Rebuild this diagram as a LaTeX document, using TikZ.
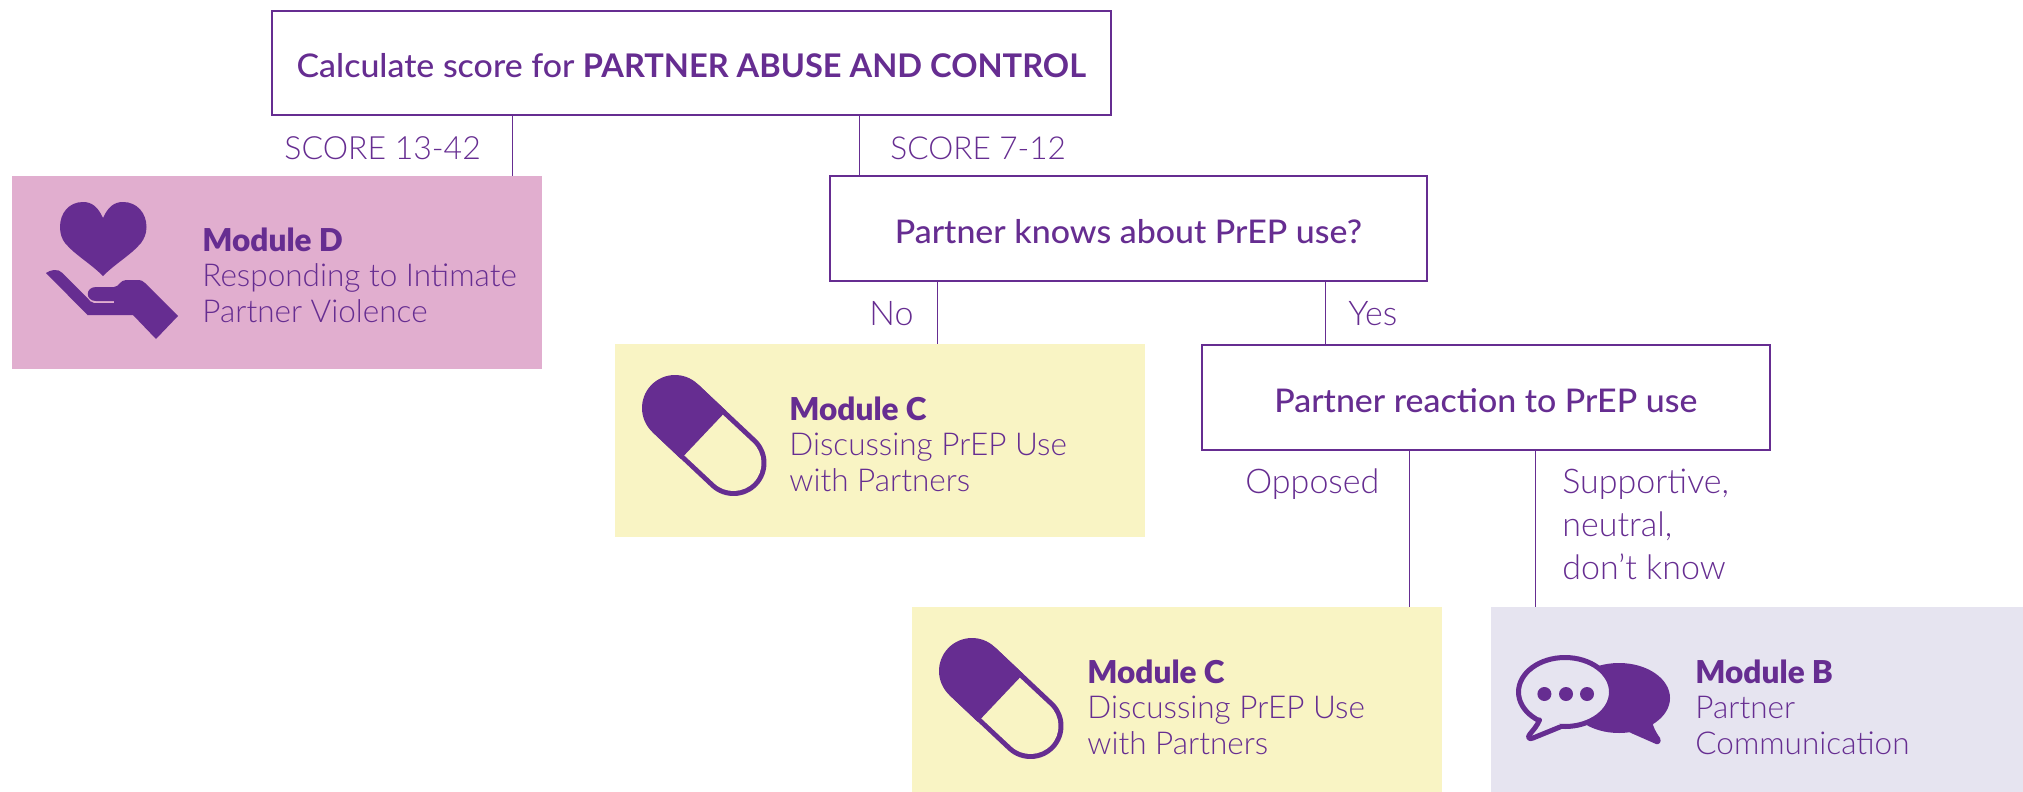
\documentclass[tikz,border=0pt]{standalone}
\usepackage{fontspec}
\setmainfont{Lato}[UprightFont=*-Light,BoldFont=*-Bold]
\newfontfamily\heavyf{Lato}[UprightFont=*-Black]
\newfontfamily\midf{Lato}[UprightFont=*-Medium,BoldFont=*-Bold,UprightFeatures={FakeStretch=1.04}]
\definecolor{pur}{HTML}{662D91}
\definecolor{pinkbg}{HTML}{E1AECF}
\definecolor{yelbg}{HTML}{F9F4C4}
\definecolor{grybg}{HTML}{E6E4F0}
\tikzset{
  qbox/.style={draw=pur,line width=0.8pt,fill=white,anchor=north west,inner sep=0pt,text=pur,font=\midf\fontsize{16.3}{18}\selectfont},
  modbox/.style={anchor=north west,inner sep=0pt,draw=none},
  modtext/.style={anchor=west,inner sep=0pt,align=left,text=pur,font=\fontsize{15.75}{17.75}\selectfont},
  lab/.style={anchor=base west,inner sep=0pt,text=pur,font=\fontsize{17}{21.5}\selectfont},
  conn/.style={draw=pur,line width=0.7pt},
}
\newcommand{\modhead}[1]{{\heavyf #1}}
\newcommand{\pillicon}[1]{%
  \begin{scope}[shift={#1}]
    \draw[pur,line width=33pt,line cap=round] (675,408) -- (733.5,463);
    \draw[yelbg,line width=28pt,line cap=round] (703.5,435) -- (733.5,463);
    \draw[pur,line width=33pt] (675,408) -- (703.5,435);
  \end{scope}}
\begin{document}
\begin{tikzpicture}[x=0.5pt,y=-0.5pt]
\useasboundingbox (0,0) rectangle (2023,792);
% question boxes
\node[qbox,minimum width=419.5pt,minimum height=52pt] (q1) at (271,10) {\raisebox{0pt}[15pt][0pt]{Calculate score for \textbf{PARTNER ABUSE AND CONTROL}}};
\node[qbox,minimum width=298.5pt,minimum height=52.5pt] (q2) at (829,175) {\raisebox{0pt}[15.5pt][0pt]{Partner knows about PrEP use?}};
\node[qbox,minimum width=284pt,minimum height=52.5pt] (q3) at (1201,344) {\raisebox{0pt}[15.5pt][0pt]{Partner reaction to PrEP use}};
% module boxes
\node[modbox,fill=pinkbg,minimum width=265pt,minimum height=96.5pt] (md) at (12,175.5) {};
\node[modbox,fill=yelbg,minimum width=265pt,minimum height=96.5pt] (mc1) at (615,343.5) {};
\node[modbox,fill=yelbg,minimum width=265pt,minimum height=96.5pt] (mc2) at (912,606.5) {};
\node[modbox,fill=grybg,minimum width=266pt,minimum height=96.5pt] (mb) at (1491,606.5) {};
% connector positions
\coordinate (c1) at (512.5,140);
\coordinate (c2) at (859.5,140);
\coordinate (c3) at (937.5,310);
\coordinate (c4) at (1325.5,310);
\coordinate (c5) at (1409.5,520);
\coordinate (c6) at (1535.5,520);
\draw[conn] (q1.south -| c1) -- (md.north -| c1);
\draw[conn] (q1.south -| c2) -- (q2.north -| c2);
\draw[conn] (q2.south -| c3) -- (mc1.north -| c3);
\draw[conn] (q2.south -| c4) -- (q3.north -| c4);
\draw[conn] (q3.south -| c5) -- (mc2.north -| c5);
\draw[conn] (q3.south -| c6) -- (mb.north -| c6);
% labels
\node[lab,font=\fontsize{16}{21.5}\selectfont] (l1) at (284,159) {SCORE 13-42};
\node[lab,font=\fontsize{15.8}{21.5}\selectfont] (l2) at (890,159) {SCORE 7-12};
\node[lab] (l3) at (869,325) {No};
\node[lab] (l4) at (1348,325) {Yes};
\node[lab] (l5) at (1245,493) {Opposed};
\node[lab,align=left,anchor=west] (l6) at (1562,524) {Supportive,\\neutral,\\don’t know};
% module texts
\node[modtext] (td) at (202,275) {\modhead{Module D}\\Responding to Intimate\\Partner Violence};
\node[modtext] (tc1) at (789,444) {\modhead{Module C}\\Discussing PrEP Use\\with Partners};
\node[modtext] (tc2) at (1087,707) {\modhead{Module C}\\Discussing PrEP Use\\with Partners};
\node[modtext] (tb) at (1695,707) {\modhead{Module B}\\Partner\\Communication};
% heart in hand
\fill[pur] (103,218) .. controls (108,207) and (114,202) .. (123,202) .. controls (137,202) and (146.5,213) .. (146.5,227) .. controls (146.5,234) and (144,239) .. (141,243) .. controls (131,255) and (116,263) .. (103,276) .. controls (90,263) and (75,255) .. (65,243) .. controls (62,239) and (60,234) .. (60,227) .. controls (60,213) and (69,202) .. (83,202) .. controls (92,202) and (98,207) .. (103,218) -- cycle;
\fill[pur] (48,275) -- (87.5,315) -- (133,315) -- (156,339) -- (178,316) -- (145,283) .. controls (143,281) and (141,280) .. (139,280) -- (126,280) .. controls (120,280) and (119,287) .. (114,287) -- (96,287) .. controls (85,287) and (85,301) .. (96,301) -- (114,301) -- (114,303) -- (94,303) .. controls (91,303) and (89,300) .. (87.5,298) -- (62.5,273) .. controls (58,268) and (50,270) .. (46,273) -- cycle;
% pills
\pillicon{(0,0)}
\pillicon{(297,263)}
% speech bubbles
\fill[pur] (1619,698) ellipse [x radius=51,y radius=35];
\fill[pur] (1653,722) -- (1653,725) .. controls (1655,731) and (1658,735) .. (1660,738) .. controls (1662,742) and (1659,745) .. (1656,744) -- (1631,733) -- (1620,725) -- cycle;
\draw[pur,fill=grybg,line width=2.5pt] (1565,692) ellipse [x radius=46.5,y radius=34.5];
\fill[grybg] (1541,716) -- (1536,726) -- (1531,735) -- (1560,725) -- (1558,720) -- cycle;
\draw[pur,line width=2.5pt,line join=round,line cap=round] (1539.5,720) .. controls (1537,726) and (1534,729) .. (1530,734) .. controls (1527,737) and (1529,740) .. (1533,738) -- (1560,727);
\fill[pur] (1544.4,694) circle [radius=7];
\fill[pur] (1566,694) circle [radius=7];
\fill[pur] (1587,694) circle [radius=7];
\end{tikzpicture}
\end{document}
